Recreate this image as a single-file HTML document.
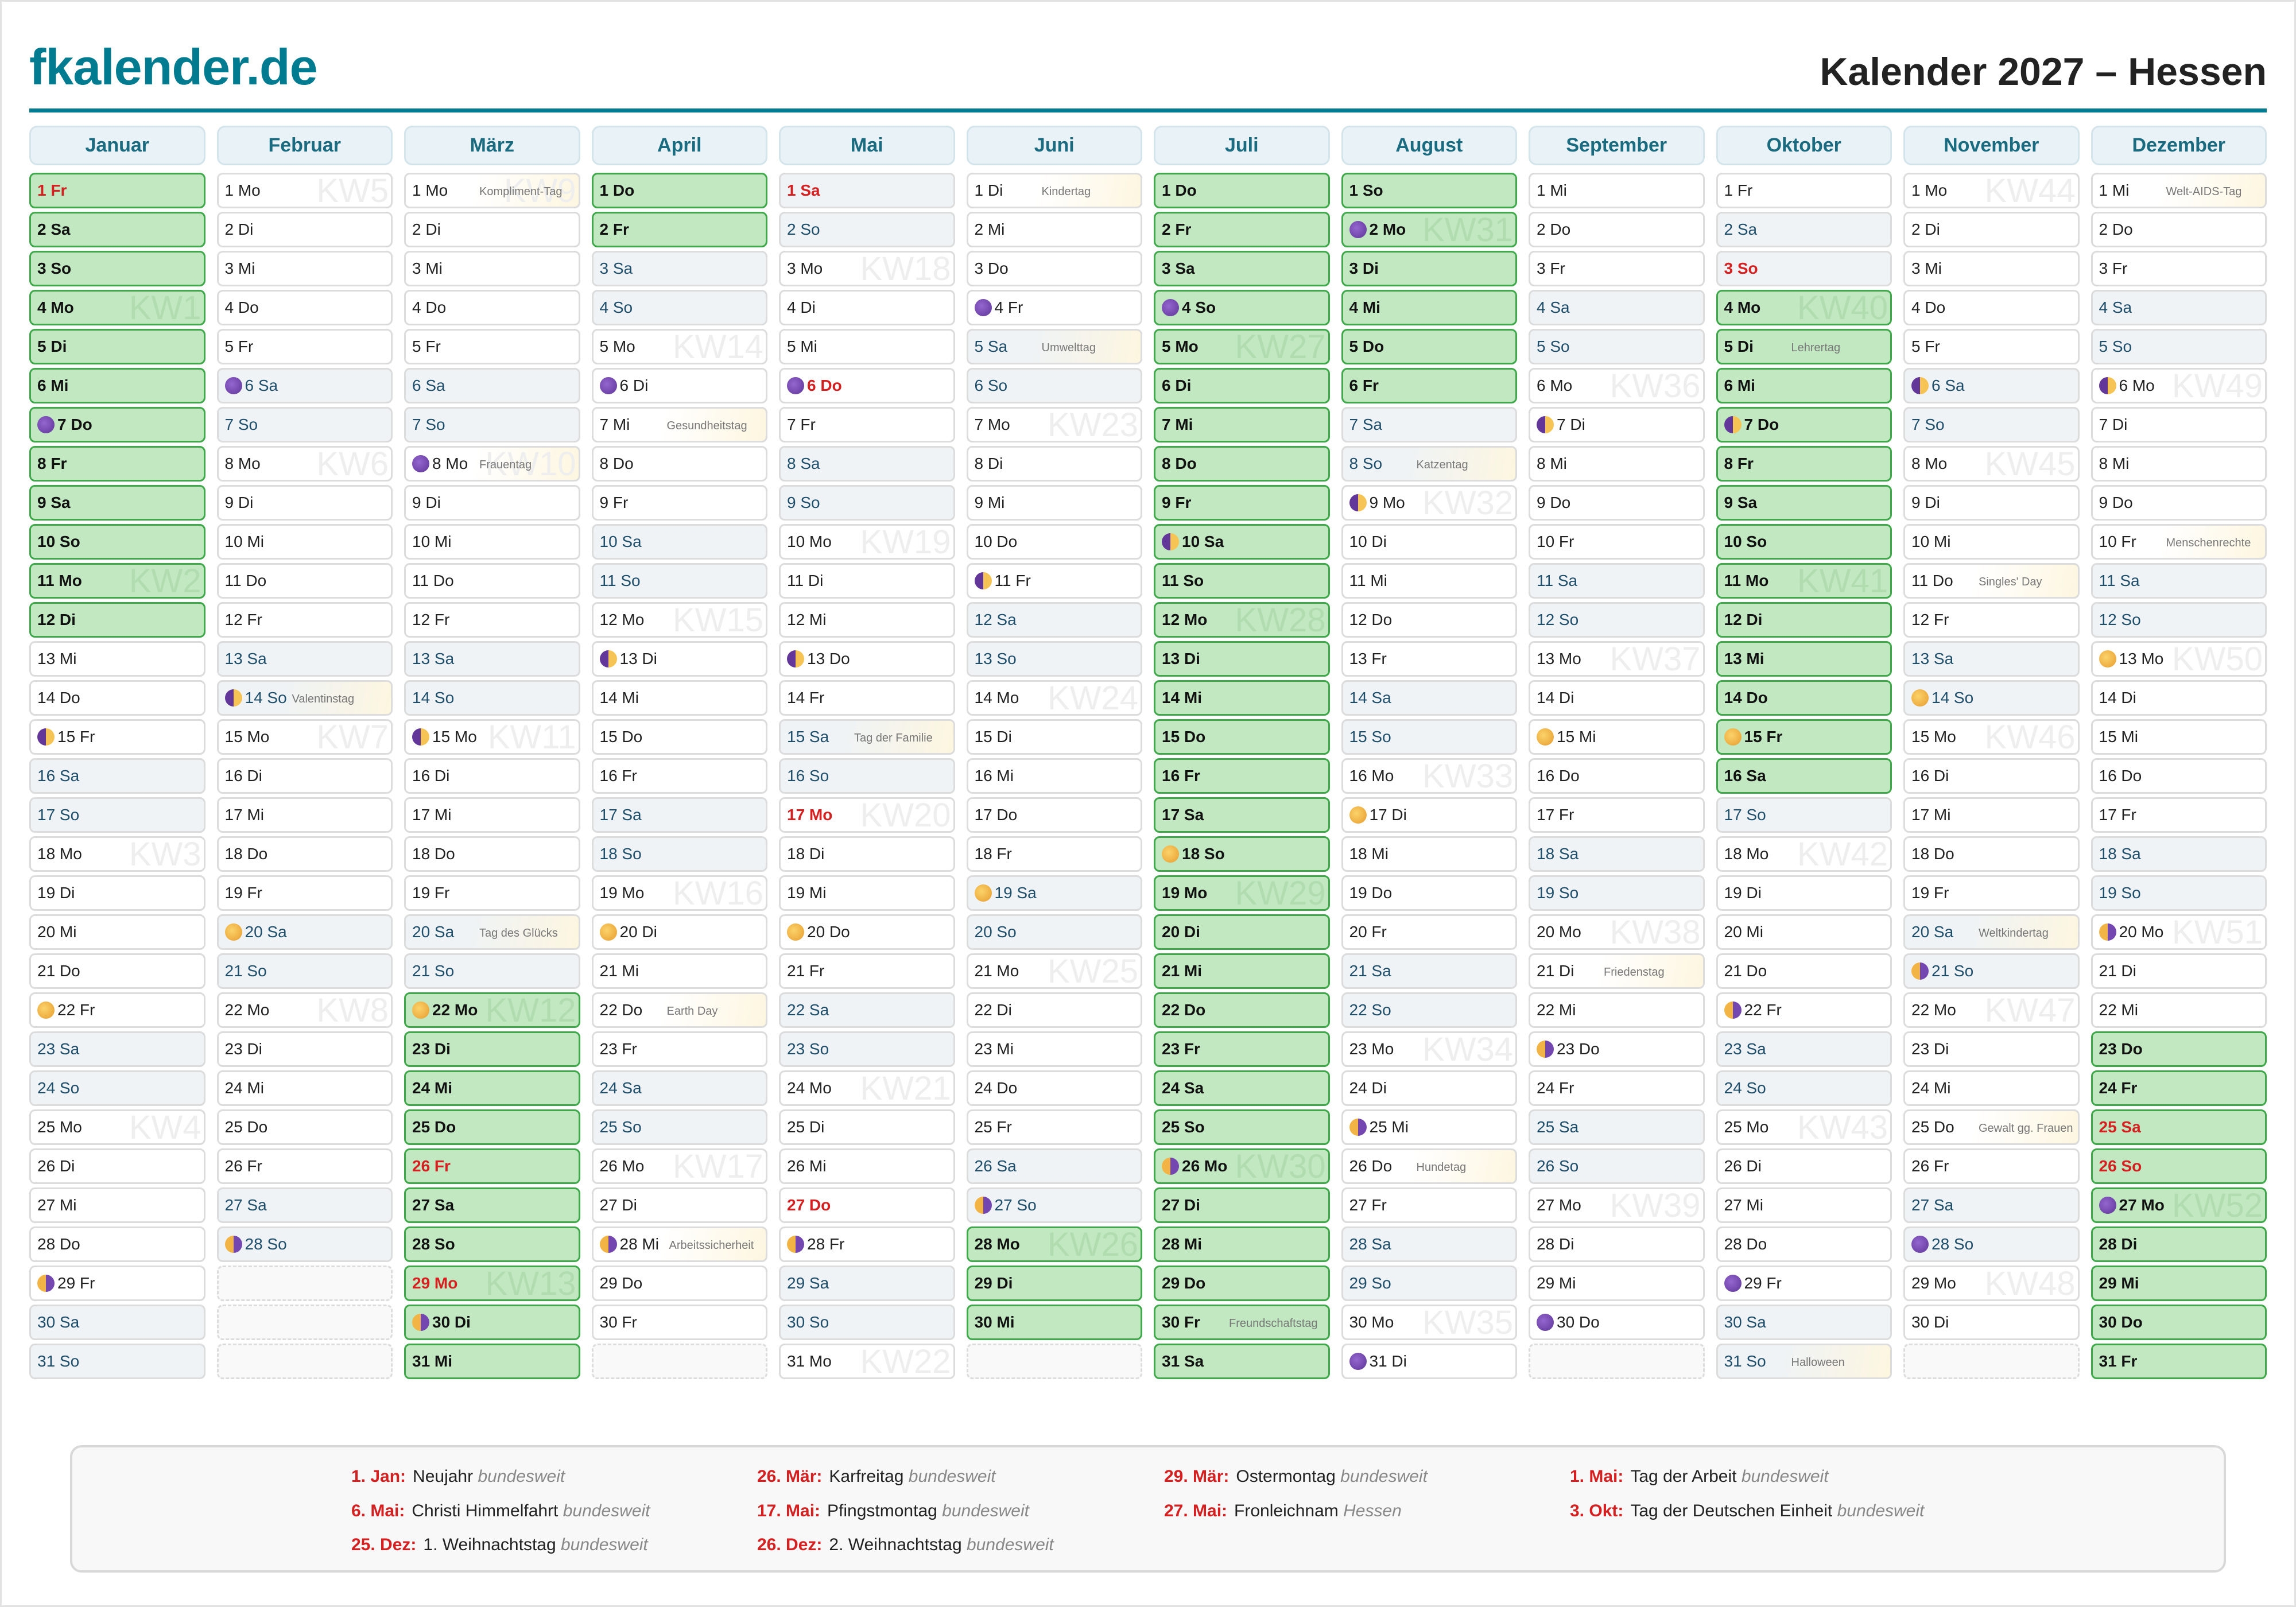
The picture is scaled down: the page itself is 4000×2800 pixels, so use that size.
<!DOCTYPE html>
<html><head><meta charset="utf-8">
<style>
html,body{margin:0;padding:0;background:#fff}
body{width:4000px;height:2800px;position:relative;overflow:hidden;font-family:"Liberation Sans",sans-serif;box-sizing:border-box;box-shadow:inset 0 0 0 3px #e2e2e2}
.logo{position:absolute;left:51px;top:66px;font-size:88px;font-weight:bold;color:#007b8f;letter-spacing:-1px}
.title{position:absolute;right:51px;top:86px;font-size:68px;font-weight:bold;color:#222}
.line{position:absolute;left:51px;top:189px;width:3898px;height:7px;background:#007b8f}
.cal{position:absolute;left:51px;top:219px;width:3898px;display:grid;grid-template-columns:repeat(12,306.5px);column-gap:20px}
.h{height:69px;margin-bottom:13px;box-sizing:border-box;border:3px solid #d3e4eb;border-radius:14px;background:#e9f2f6;color:#1a6b80;font-weight:bold;font-size:34px;line-height:63px;text-align:center}
.c{height:62px;margin-bottom:6px;box-sizing:border-box;border:3px solid #dcdcdc;border-radius:10px;background:#fff;position:relative;z-index:0;font-size:28px;line-height:56px;padding-left:11px;color:#222;white-space:nowrap;overflow:hidden}
.w{background:#eff3f6;color:#1f4e6b}
.ev{background:linear-gradient(100deg,#fff 40%,#fdf6e0)}
.w.ev{background:linear-gradient(100deg,#eff3f6 35%,#fdf6e0)}
.g,.g.ev{background:#c1e8c1;border-color:#3ea84a;color:#111;font-weight:bold}
.r{color:#d42020;font-weight:bold}
.e{border:3px dashed #dcdcdc;background:#f9f9f9}
.c i{position:absolute;right:4px;top:0;font-style:normal;font-size:58px;line-height:58px;color:#eeeeee;z-index:-1;font-weight:normal}
.g i{color:#b0dcb0}
.c u{position:absolute;left:128px;top:2px;text-decoration:none;font-size:20px;color:#777;font-weight:normal}
.m{display:inline-block;width:30px;height:30px;border-radius:50%;vertical-align:middle;margin:-4px 5px 0 0}
.n{background:radial-gradient(circle at 40% 40%,#9466d0,#5e3596)}
.f{background:radial-gradient(circle at 40% 40%,#fbd36a,#e79b2e)}
.q1{background:linear-gradient(90deg,#63379a 50%,#f6c454 50%)}
.q3{background:linear-gradient(90deg,#f2b445 50%,#7446b0 50%)}
.leg{position:absolute;left:122px;top:2518px;width:3756px;height:222px;box-sizing:border-box;background:#f8f8f8;border:4px solid #d8d8d8;border-radius:20px}
.le{position:absolute;font-size:30px;color:#222;white-space:nowrap;line-height:36px}
.le b{color:#d42020;margin-right:12px}
.le em{color:#888}
</style></head><body>
<div class="logo">fkalender.de</div>
<div class="title">Kalender 2027 – Hessen</div>
<div class="line"></div>
<div class="cal">
<div>
<div class="h">Januar</div>
<div class="c g r">1 Fr</div>
<div class="c g">2 Sa</div>
<div class="c g">3 So</div>
<div class="c g"><i>KW1</i>4 Mo</div>
<div class="c g">5 Di</div>
<div class="c g">6 Mi</div>
<div class="c g"><b class="m n"></b>7 Do</div>
<div class="c g">8 Fr</div>
<div class="c g">9 Sa</div>
<div class="c g">10 So</div>
<div class="c g"><i>KW2</i>11 Mo</div>
<div class="c g">12 Di</div>
<div class="c">13 Mi</div>
<div class="c">14 Do</div>
<div class="c"><b class="m q1"></b>15 Fr</div>
<div class="c w">16 Sa</div>
<div class="c w">17 So</div>
<div class="c"><i>KW3</i>18 Mo</div>
<div class="c">19 Di</div>
<div class="c">20 Mi</div>
<div class="c">21 Do</div>
<div class="c"><b class="m f"></b>22 Fr</div>
<div class="c w">23 Sa</div>
<div class="c w">24 So</div>
<div class="c"><i>KW4</i>25 Mo</div>
<div class="c">26 Di</div>
<div class="c">27 Mi</div>
<div class="c">28 Do</div>
<div class="c"><b class="m q3"></b>29 Fr</div>
<div class="c w">30 Sa</div>
<div class="c w">31 So</div>
</div>
<div>
<div class="h">Februar</div>
<div class="c"><i>KW5</i>1 Mo</div>
<div class="c">2 Di</div>
<div class="c">3 Mi</div>
<div class="c">4 Do</div>
<div class="c">5 Fr</div>
<div class="c w"><b class="m n"></b>6 Sa</div>
<div class="c w">7 So</div>
<div class="c"><i>KW6</i>8 Mo</div>
<div class="c">9 Di</div>
<div class="c">10 Mi</div>
<div class="c">11 Do</div>
<div class="c">12 Fr</div>
<div class="c w">13 Sa</div>
<div class="c w ev"><b class="m q1"></b>14 So<u>Valentinstag</u></div>
<div class="c"><i>KW7</i>15 Mo</div>
<div class="c">16 Di</div>
<div class="c">17 Mi</div>
<div class="c">18 Do</div>
<div class="c">19 Fr</div>
<div class="c w"><b class="m f"></b>20 Sa</div>
<div class="c w">21 So</div>
<div class="c"><i>KW8</i>22 Mo</div>
<div class="c">23 Di</div>
<div class="c">24 Mi</div>
<div class="c">25 Do</div>
<div class="c">26 Fr</div>
<div class="c w">27 Sa</div>
<div class="c w"><b class="m q3"></b>28 So</div>
<div class="c e"></div>
<div class="c e"></div>
<div class="c e"></div>
</div>
<div>
<div class="h">März</div>
<div class="c ev"><i>KW9</i>1 Mo<u>Kompliment-Tag</u></div>
<div class="c">2 Di</div>
<div class="c">3 Mi</div>
<div class="c">4 Do</div>
<div class="c">5 Fr</div>
<div class="c w">6 Sa</div>
<div class="c w">7 So</div>
<div class="c ev"><i>KW10</i><b class="m n"></b>8 Mo<u>Frauentag</u></div>
<div class="c">9 Di</div>
<div class="c">10 Mi</div>
<div class="c">11 Do</div>
<div class="c">12 Fr</div>
<div class="c w">13 Sa</div>
<div class="c w">14 So</div>
<div class="c"><i>KW11</i><b class="m q1"></b>15 Mo</div>
<div class="c">16 Di</div>
<div class="c">17 Mi</div>
<div class="c">18 Do</div>
<div class="c">19 Fr</div>
<div class="c w ev">20 Sa<u>Tag des Glücks</u></div>
<div class="c w">21 So</div>
<div class="c g"><i>KW12</i><b class="m f"></b>22 Mo</div>
<div class="c g">23 Di</div>
<div class="c g">24 Mi</div>
<div class="c g">25 Do</div>
<div class="c g r">26 Fr</div>
<div class="c g">27 Sa</div>
<div class="c g">28 So</div>
<div class="c g r"><i>KW13</i>29 Mo</div>
<div class="c g"><b class="m q3"></b>30 Di</div>
<div class="c g">31 Mi</div>
</div>
<div>
<div class="h">April</div>
<div class="c g">1 Do</div>
<div class="c g">2 Fr</div>
<div class="c w">3 Sa</div>
<div class="c w">4 So</div>
<div class="c"><i>KW14</i>5 Mo</div>
<div class="c"><b class="m n"></b>6 Di</div>
<div class="c ev">7 Mi<u>Gesundheitstag</u></div>
<div class="c">8 Do</div>
<div class="c">9 Fr</div>
<div class="c w">10 Sa</div>
<div class="c w">11 So</div>
<div class="c"><i>KW15</i>12 Mo</div>
<div class="c"><b class="m q1"></b>13 Di</div>
<div class="c">14 Mi</div>
<div class="c">15 Do</div>
<div class="c">16 Fr</div>
<div class="c w">17 Sa</div>
<div class="c w">18 So</div>
<div class="c"><i>KW16</i>19 Mo</div>
<div class="c"><b class="m f"></b>20 Di</div>
<div class="c">21 Mi</div>
<div class="c ev">22 Do<u>Earth Day</u></div>
<div class="c">23 Fr</div>
<div class="c w">24 Sa</div>
<div class="c w">25 So</div>
<div class="c"><i>KW17</i>26 Mo</div>
<div class="c">27 Di</div>
<div class="c ev"><b class="m q3"></b>28 Mi<u style="left:132px">Arbeitssicherheit</u></div>
<div class="c">29 Do</div>
<div class="c">30 Fr</div>
<div class="c e"></div>
</div>
<div>
<div class="h">Mai</div>
<div class="c w r">1 Sa</div>
<div class="c w">2 So</div>
<div class="c"><i>KW18</i>3 Mo</div>
<div class="c">4 Di</div>
<div class="c">5 Mi</div>
<div class="c r"><b class="m n"></b>6 Do</div>
<div class="c">7 Fr</div>
<div class="c w">8 Sa</div>
<div class="c w">9 So</div>
<div class="c"><i>KW19</i>10 Mo</div>
<div class="c">11 Di</div>
<div class="c">12 Mi</div>
<div class="c"><b class="m q1"></b>13 Do</div>
<div class="c">14 Fr</div>
<div class="c w ev">15 Sa<u>Tag der Familie</u></div>
<div class="c w">16 So</div>
<div class="c r"><i>KW20</i>17 Mo</div>
<div class="c">18 Di</div>
<div class="c">19 Mi</div>
<div class="c"><b class="m f"></b>20 Do</div>
<div class="c">21 Fr</div>
<div class="c w">22 Sa</div>
<div class="c w">23 So</div>
<div class="c"><i>KW21</i>24 Mo</div>
<div class="c">25 Di</div>
<div class="c">26 Mi</div>
<div class="c r">27 Do</div>
<div class="c"><b class="m q3"></b>28 Fr</div>
<div class="c w">29 Sa</div>
<div class="c w">30 So</div>
<div class="c"><i>KW22</i>31 Mo</div>
</div>
<div>
<div class="h">Juni</div>
<div class="c ev">1 Di<u>Kindertag</u></div>
<div class="c">2 Mi</div>
<div class="c">3 Do</div>
<div class="c"><b class="m n"></b>4 Fr</div>
<div class="c w ev">5 Sa<u>Umwelttag</u></div>
<div class="c w">6 So</div>
<div class="c"><i>KW23</i>7 Mo</div>
<div class="c">8 Di</div>
<div class="c">9 Mi</div>
<div class="c">10 Do</div>
<div class="c"><b class="m q1"></b>11 Fr</div>
<div class="c w">12 Sa</div>
<div class="c w">13 So</div>
<div class="c"><i>KW24</i>14 Mo</div>
<div class="c">15 Di</div>
<div class="c">16 Mi</div>
<div class="c">17 Do</div>
<div class="c">18 Fr</div>
<div class="c w"><b class="m f"></b>19 Sa</div>
<div class="c w">20 So</div>
<div class="c"><i>KW25</i>21 Mo</div>
<div class="c">22 Di</div>
<div class="c">23 Mi</div>
<div class="c">24 Do</div>
<div class="c">25 Fr</div>
<div class="c w">26 Sa</div>
<div class="c w"><b class="m q3"></b>27 So</div>
<div class="c g"><i>KW26</i>28 Mo</div>
<div class="c g">29 Di</div>
<div class="c g">30 Mi</div>
<div class="c e"></div>
</div>
<div>
<div class="h">Juli</div>
<div class="c g">1 Do</div>
<div class="c g">2 Fr</div>
<div class="c g">3 Sa</div>
<div class="c g"><b class="m n"></b>4 So</div>
<div class="c g"><i>KW27</i>5 Mo</div>
<div class="c g">6 Di</div>
<div class="c g">7 Mi</div>
<div class="c g">8 Do</div>
<div class="c g">9 Fr</div>
<div class="c g"><b class="m q1"></b>10 Sa</div>
<div class="c g">11 So</div>
<div class="c g"><i>KW28</i>12 Mo</div>
<div class="c g">13 Di</div>
<div class="c g">14 Mi</div>
<div class="c g">15 Do</div>
<div class="c g">16 Fr</div>
<div class="c g">17 Sa</div>
<div class="c g"><b class="m f"></b>18 So</div>
<div class="c g"><i>KW29</i>19 Mo</div>
<div class="c g">20 Di</div>
<div class="c g">21 Mi</div>
<div class="c g">22 Do</div>
<div class="c g">23 Fr</div>
<div class="c g">24 Sa</div>
<div class="c g">25 So</div>
<div class="c g"><i>KW30</i><b class="m q3"></b>26 Mo</div>
<div class="c g">27 Di</div>
<div class="c g">28 Mi</div>
<div class="c g">29 Do</div>
<div class="c g ev">30 Fr<u>Freundschaftstag</u></div>
<div class="c g">31 Sa</div>
</div>
<div>
<div class="h">August</div>
<div class="c g">1 So</div>
<div class="c g"><i>KW31</i><b class="m n"></b>2 Mo</div>
<div class="c g">3 Di</div>
<div class="c g">4 Mi</div>
<div class="c g">5 Do</div>
<div class="c g">6 Fr</div>
<div class="c w">7 Sa</div>
<div class="c w ev">8 So<u>Katzentag</u></div>
<div class="c"><i>KW32</i><b class="m q1"></b>9 Mo</div>
<div class="c">10 Di</div>
<div class="c">11 Mi</div>
<div class="c">12 Do</div>
<div class="c">13 Fr</div>
<div class="c w">14 Sa</div>
<div class="c w">15 So</div>
<div class="c"><i>KW33</i>16 Mo</div>
<div class="c"><b class="m f"></b>17 Di</div>
<div class="c">18 Mi</div>
<div class="c">19 Do</div>
<div class="c">20 Fr</div>
<div class="c w">21 Sa</div>
<div class="c w">22 So</div>
<div class="c"><i>KW34</i>23 Mo</div>
<div class="c">24 Di</div>
<div class="c"><b class="m q3"></b>25 Mi</div>
<div class="c ev">26 Do<u>Hundetag</u></div>
<div class="c">27 Fr</div>
<div class="c w">28 Sa</div>
<div class="c w">29 So</div>
<div class="c"><i>KW35</i>30 Mo</div>
<div class="c"><b class="m n"></b>31 Di</div>
</div>
<div>
<div class="h">September</div>
<div class="c">1 Mi</div>
<div class="c">2 Do</div>
<div class="c">3 Fr</div>
<div class="c w">4 Sa</div>
<div class="c w">5 So</div>
<div class="c"><i>KW36</i>6 Mo</div>
<div class="c"><b class="m q1"></b>7 Di</div>
<div class="c">8 Mi</div>
<div class="c">9 Do</div>
<div class="c">10 Fr</div>
<div class="c w">11 Sa</div>
<div class="c w">12 So</div>
<div class="c"><i>KW37</i>13 Mo</div>
<div class="c">14 Di</div>
<div class="c"><b class="m f"></b>15 Mi</div>
<div class="c">16 Do</div>
<div class="c">17 Fr</div>
<div class="c w">18 Sa</div>
<div class="c w">19 So</div>
<div class="c"><i>KW38</i>20 Mo</div>
<div class="c ev">21 Di<u>Friedenstag</u></div>
<div class="c">22 Mi</div>
<div class="c"><b class="m q3"></b>23 Do</div>
<div class="c">24 Fr</div>
<div class="c w">25 Sa</div>
<div class="c w">26 So</div>
<div class="c"><i>KW39</i>27 Mo</div>
<div class="c">28 Di</div>
<div class="c">29 Mi</div>
<div class="c"><b class="m n"></b>30 Do</div>
<div class="c e"></div>
</div>
<div>
<div class="h">Oktober</div>
<div class="c">1 Fr</div>
<div class="c w">2 Sa</div>
<div class="c w r">3 So</div>
<div class="c g"><i>KW40</i>4 Mo</div>
<div class="c g ev">5 Di<u>Lehrertag</u></div>
<div class="c g">6 Mi</div>
<div class="c g"><b class="m q1"></b>7 Do</div>
<div class="c g">8 Fr</div>
<div class="c g">9 Sa</div>
<div class="c g">10 So</div>
<div class="c g"><i>KW41</i>11 Mo</div>
<div class="c g">12 Di</div>
<div class="c g">13 Mi</div>
<div class="c g">14 Do</div>
<div class="c g"><b class="m f"></b>15 Fr</div>
<div class="c g">16 Sa</div>
<div class="c w">17 So</div>
<div class="c"><i>KW42</i>18 Mo</div>
<div class="c">19 Di</div>
<div class="c">20 Mi</div>
<div class="c">21 Do</div>
<div class="c"><b class="m q3"></b>22 Fr</div>
<div class="c w">23 Sa</div>
<div class="c w">24 So</div>
<div class="c"><i>KW43</i>25 Mo</div>
<div class="c">26 Di</div>
<div class="c">27 Mi</div>
<div class="c">28 Do</div>
<div class="c"><b class="m n"></b>29 Fr</div>
<div class="c w">30 Sa</div>
<div class="c w ev">31 So<u>Halloween</u></div>
</div>
<div>
<div class="h">November</div>
<div class="c"><i>KW44</i>1 Mo</div>
<div class="c">2 Di</div>
<div class="c">3 Mi</div>
<div class="c">4 Do</div>
<div class="c">5 Fr</div>
<div class="c w"><b class="m q1"></b>6 Sa</div>
<div class="c w">7 So</div>
<div class="c"><i>KW45</i>8 Mo</div>
<div class="c">9 Di</div>
<div class="c">10 Mi</div>
<div class="c ev">11 Do<u>Singles' Day</u></div>
<div class="c">12 Fr</div>
<div class="c w">13 Sa</div>
<div class="c w"><b class="m f"></b>14 So</div>
<div class="c"><i>KW46</i>15 Mo</div>
<div class="c">16 Di</div>
<div class="c">17 Mi</div>
<div class="c">18 Do</div>
<div class="c">19 Fr</div>
<div class="c w ev">20 Sa<u>Weltkindertag</u></div>
<div class="c w"><b class="m q3"></b>21 So</div>
<div class="c"><i>KW47</i>22 Mo</div>
<div class="c">23 Di</div>
<div class="c">24 Mi</div>
<div class="c ev">25 Do<u>Gewalt gg. Frauen</u></div>
<div class="c">26 Fr</div>
<div class="c w">27 Sa</div>
<div class="c w"><b class="m n"></b>28 So</div>
<div class="c"><i>KW48</i>29 Mo</div>
<div class="c">30 Di</div>
<div class="c e"></div>
</div>
<div>
<div class="h">Dezember</div>
<div class="c ev">1 Mi<u>Welt-AIDS-Tag</u></div>
<div class="c">2 Do</div>
<div class="c">3 Fr</div>
<div class="c w">4 Sa</div>
<div class="c w">5 So</div>
<div class="c"><i>KW49</i><b class="m q1"></b>6 Mo</div>
<div class="c">7 Di</div>
<div class="c">8 Mi</div>
<div class="c">9 Do</div>
<div class="c ev">10 Fr<u>Menschenrechte</u></div>
<div class="c w">11 Sa</div>
<div class="c w">12 So</div>
<div class="c"><i>KW50</i><b class="m f"></b>13 Mo</div>
<div class="c">14 Di</div>
<div class="c">15 Mi</div>
<div class="c">16 Do</div>
<div class="c">17 Fr</div>
<div class="c w">18 Sa</div>
<div class="c w">19 So</div>
<div class="c"><i>KW51</i><b class="m q3"></b>20 Mo</div>
<div class="c">21 Di</div>
<div class="c">22 Mi</div>
<div class="c g">23 Do</div>
<div class="c g">24 Fr</div>
<div class="c g r">25 Sa</div>
<div class="c g r">26 So</div>
<div class="c g"><i>KW52</i><b class="m n"></b>27 Mo</div>
<div class="c g">28 Di</div>
<div class="c g">29 Mi</div>
<div class="c g">30 Do</div>
<div class="c g">31 Fr</div>
</div>
</div>
<div class="leg">
<div class="le" style="left:486px;top:33px"><b>1. Jan:</b>Neujahr <em>bundesweit</em></div>
<div class="le" style="left:486px;top:93px"><b>6. Mai:</b>Christi Himmelfahrt <em>bundesweit</em></div>
<div class="le" style="left:486px;top:152px"><b>25. Dez:</b>1. Weihnachtstag <em>bundesweit</em></div>
<div class="le" style="left:1193px;top:33px"><b>26. Mär:</b>Karfreitag <em>bundesweit</em></div>
<div class="le" style="left:1193px;top:93px"><b>17. Mai:</b>Pfingstmontag <em>bundesweit</em></div>
<div class="le" style="left:1193px;top:152px"><b>26. Dez:</b>2. Weihnachtstag <em>bundesweit</em></div>
<div class="le" style="left:1902px;top:33px"><b>29. Mär:</b>Ostermontag <em>bundesweit</em></div>
<div class="le" style="left:1902px;top:93px"><b>27. Mai:</b>Fronleichnam <em>Hessen</em></div>
<div class="le" style="left:2609px;top:33px"><b>1. Mai:</b>Tag der Arbeit <em>bundesweit</em></div>
<div class="le" style="left:2609px;top:93px"><b>3. Okt:</b>Tag der Deutschen Einheit <em>bundesweit</em></div>
</div>
</body></html>
